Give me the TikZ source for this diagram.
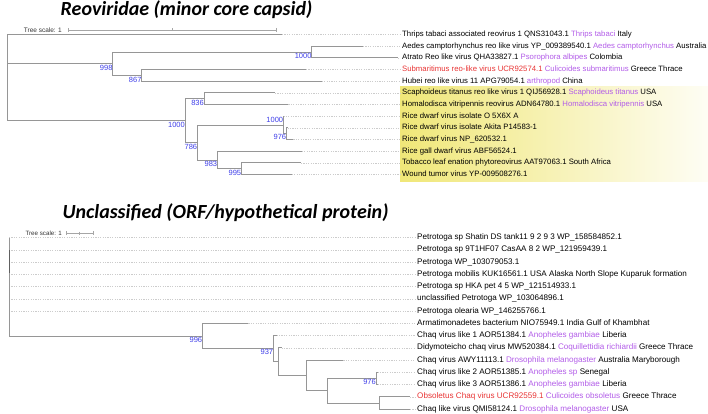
\documentclass[tikz,border=0pt]{standalone}
\usepackage{fontspec}
\setmainfont{Liberation Sans}
\newfontfamily\titlefont{Carlito}
\usetikzlibrary{arrows.meta,positioning}
\definecolor{hostpurple}{RGB}{178,92,232}
\definecolor{virusred}{RGB}{232,52,52}
\definecolor{bootblue}{RGB}{62,62,232}
\definecolor{hlyellow}{RGB}{240,231,120}
\definecolor{branchgray}{RGB}{150,150,150}
\newcommand{\host}[1]{\textcolor{hostpurple}{#1}}
\newcommand{\redvir}[1]{\textcolor{virusred}{#1}}

\begin{document}
\begin{tikzpicture}[x=1pt,y=-1pt,
    branch/.style={draw=branchgray, line width=0.7pt},
    leader/.style={draw=gray!40, line width=0.5pt, dash pattern=on 1.2pt off 1.2pt},
    leaf/.style={anchor=west, inner xsep=2pt, inner ysep=0pt, text height=5.5pt, text depth=1.5pt, font=\fontsize{7.75}{9}\selectfont},
    leafb/.style={leaf, font=\fontsize{8.1}{9.5}\selectfont},
    boot/.style={text=bootblue, inner sep=0pt, text height=5.4pt, text depth=0pt, font=\fontsize{7.5}{9}\selectfont},
    titletext/.style={anchor=base, inner sep=0pt, font=\titlefont\bfseries\itshape\fontsize{20}{23}\selectfont},
    scaletext/.style={anchor=east, inner sep=0pt, text=gray!40!black, font=\fontsize{6.5}{8}\selectfont},
    scalebar/.style={draw=gray!70, line width=0.8pt, {Bar[width=4pt]}-{Bar[width=4pt]}}]
\useasboundingbox (0,0) rectangle (708,414);

\node[titletext] (title1) at (186.5,16) {Reoviridae (minor core capsid)};
\node[titletext] (title2) at (225.5,218) {Unclassified (ORF/hypothetical protein)};

\node[scaletext] (scale1) at (62,30) {Tree scale: 1};
\coordinate (sa) at (68.3,30);
\coordinate (sb) at (276.7,30);
\draw[scalebar] (sa) -- (sb);
\draw[draw=gray!70, line width=0.6pt] (172.5,28.5) -- (172.5,31.5);
\node[scaletext, font=\fontsize{6.2}{8}\selectfont] (scale2) at (62,233) {Tree scale: 1};
\coordinate (sc) at (66,233);
\coordinate (sd) at (93.3,233);
\draw[scalebar] (sc) -- (sd);
\draw[draw=gray!70, line width=0.6pt] (79.7,231.5) -- (79.7,234.5);

\shade[left color=hlyellow, right color=hlyellow!8] (400,86.7) rectangle (708,181.5);

\coordinate (rootA) at (7,77.5);
\coordinate (nA) at (112.7,63.67);
\coordinate (nB) at (141.7,75.33);
\coordinate (nC) at (311.7,52);
\coordinate (nD) at (185,120.55);
\coordinate (nE) at (197.3,142.42);
\coordinate (nF) at (204,98.67);
\coordinate (nG) at (283.3,124.92);
\coordinate (nH) at (217.3,159.92);
\coordinate (nI) at (286.3,133.67);
\coordinate (nJ) at (241.3,168.67);

\coordinate (t1) at (282,34.5);
\coordinate (t2) at (363,46.17);
\coordinate (t3) at (398,57.84);
\coordinate (t4) at (306,69.5);
\coordinate (t5) at (321.7,81.17);
\coordinate (t6) at (275,92.84);
\coordinate (t7) at (288.3,104.5);
\coordinate (t8) at (283.3,116.17);
\coordinate (t9) at (287.5,127.84);
\coordinate (t10) at (293.3,139.5);
\coordinate (t11) at (301.7,151.17);
\coordinate (t12) at (301,162.84);
\coordinate (t13) at (291.7,174.5);

\node[leaf] (l1) at (400,34.5) {Thrips tabaci associated reovirus 1 QNS31043.1 \host{Thrips tabaci} Italy};
\node[leaf] (l2) at (400,46.17) {Aedes camptorhynchus reo like virus YP\_009389540.1 \host{Aedes camptorhynchus} Australia};
\node[leaf] (l3) at (400,57.84) {Atrato Reo like virus QHA33827.1 \host{Psorophora albipes} Colombia};
\node[leaf] (l4) at (400,69.5) {\redvir{Submaritimus reo-like virus UCR92574.1} \host{Culicoides submaritimus} Greece Thrace};
\node[leaf] (l5) at (400,81.17) {Hubei reo like virus 11 APG79054.1 \host{arthropod} China};
\node[leaf] (l6) at (400,92.84) {Scaphoideus titanus reo like virus 1 QIJ56928.1 \host{Scaphoideus titanus} USA};
\node[leaf] (l7) at (400,104.5) {Homalodisca vitripennis reovirus ADN64780.1 \host{Homalodisca vitripennis} USA};
\node[leaf] (l8) at (400,116.17) {Rice dwarf virus isolate O 5X6X A};
\node[leaf] (l9) at (400,127.84) {Rice dwarf virus isolate Akita P14583-1};
\node[leaf] (l10) at (400,139.5) {Rice dwarf virus NP\_620532.1};
\node[leaf] (l11) at (400,151.17) {Rice gall dwarf virus ABF56524.1};
\node[leaf] (l12) at (400,162.84) {Tobacco leaf enation phytoreovirus AAT97063.1 South Africa};
\node[leaf] (l13) at (400,174.5) {Wound tumor virus YP-009508276.1};

\draw[leader] (t1) -- (l1.west);
\draw[leader] (t2) -- (l2.west);
\draw[leader] (t3) -- (l3.west);
\draw[leader] (t4) -- (l4.west);
\draw[leader] (t5) -- (l5.west);
\draw[leader] (t6) -- (l6.west);
\draw[leader] (t7) -- (l7.west);
\draw[leader] (t8) -- (l8.west);
\draw[leader] (t9) -- (l9.west);
\draw[leader] (t10) -- (l10.west);
\draw[leader] (t11) -- (l11.west);
\draw[leader] (t12) -- (l12.west);
\draw[leader] (t13) -- (l13.west);

\draw[branch] (rootA) |- (t1);
\draw[branch] (rootA) |- (nA);
\draw[branch] (rootA) |- (nD);
\draw[branch] (nA) |- (nC);
\draw[branch] (nA) |- (nB);
\draw[branch] (nC) |- (t2);
\draw[branch] (nC) |- (t3);
\draw[branch] (nB) |- (t4);
\draw[branch] (nB) |- (t5);
\draw[branch] (nD) |- (nF);
\draw[branch] (nD) |- (nE);
\draw[branch] (nF) |- (t6);
\draw[branch] (nF) |- (t7);
\draw[branch] (nE) |- (nG);
\draw[branch] (nE) |- (nH);
\draw[branch] (nG) |- (t8);
\draw[branch] (nG) |- (nI);
\draw[branch] (nI) |- (t9);
\draw[branch] (nI) |- (t10);
\draw[branch] (nH) |- (t11);
\draw[branch] (nH) |- (nJ);
\draw[branch] (nJ) |- (t12);
\draw[branch] (nJ) |- (t13);

\node[boot, below left=1.2pt and 0pt of nC] (bC) {1000};
\node[boot, below left=1.2pt and 0pt of nA] (bA) {998};
\node[boot, below left=1.2pt and 0pt of nB] (bB) {867};
\node[boot, below left=1.2pt and 0pt of nF] (bF) {836};
\node[boot, below left=1.2pt and 0pt of nD] (bD) {1000};
\node[boot, above left=2.2pt and 0pt of nG] (bG) {1000};
\node[boot, below left=0.5pt and 0pt of nI] (bI) {976};
\node[boot, below left=1.2pt and 0pt of nE] (bE) {786};
\node[boot, below left=1.2pt and 0pt of nH] (bH) {983};
\node[boot, below left=1.2pt and 0pt of nJ] (bJ) {995};

\coordinate (rootB) at (9,286);
\coordinate (nK) at (202.3,335.88);
\coordinate (nL) at (273.3,348.52);
\coordinate (nM) at (278.3,361.53);
\coordinate (nN) at (306,375.31);
\coordinate (nO) at (327.7,390.63);
\coordinate (nP) at (376,378.38);
\coordinate (nQ) at (379.3,402.88);
\coordinate (sub1) at (9.3,250);
\coordinate (sub2) at (9.3,273);

\coordinate (u1) at (9,237.5);
\coordinate (u2) at (9,249.75);
\coordinate (u3) at (9,262);
\coordinate (u4) at (9,274.25);
\coordinate (u5) at (9,286.5);
\coordinate (u6) at (9,298.75);
\coordinate (u7) at (9,311);
\coordinate (u8) at (248.3,323.25);
\coordinate (u9) at (276.5,335.5);
\coordinate (u10) at (281.5,347.75);
\coordinate (u11) at (343.3,360);
\coordinate (u12) at (377.5,372.25);
\coordinate (u13) at (377.5,384.5);
\coordinate (u14) at (410,396.75);
\coordinate (u15) at (410,409);

\node[leafb] (m1) at (415,237.5) {Petrotoga sp Shatin DS tank11 9 2 9 3 WP\_158584852.1};
\node[leafb] (m2) at (415,249.75) {Petrotoga sp 9T1HF07 CasAA 8 2 WP\_121959439.1};
\node[leafb] (m3) at (415,262) {Petrotoga WP\_103079053.1};
\node[leafb] (m4) at (415,274.25) {Petrotoga mobilis KUK16561.1 USA Alaska North Slope Kuparuk formation};
\node[leafb] (m5) at (415,286.5) {Petrotoga sp HKA pet 4 5 WP\_121514933.1};
\node[leafb] (m6) at (415,298.75) {unclassified Petrotoga WP\_103064896.1};
\node[leafb] (m7) at (415,311) {Petrotoga olearia WP\_146255766.1};
\node[leafb] (m8) at (415,323.25) {Armatimonadetes bacterium NIO75949.1 India Gulf of Khambhat};
\node[leafb] (m9) at (415,335.5) {Chaq virus like 1 AOR51384.1 \host{Anopheles gambiae} Liberia};
\node[leafb] (m10) at (415,347.75) {Didymoteicho chaq virus MW520384.1 \host{Coquillettidia richiardii} Greece Thrace};
\node[leafb] (m11) at (415,360) {Chaq virus AWY11113.1 \host{Drosophila melanogaster} Australia Maryborough};
\node[leafb] (m12) at (415,372.25) {Chaq virus like 2 AOR51385.1 \host{Anopheles sp} Senegal};
\node[leafb] (m13) at (415,384.5) {Chaq virus like 3 AOR51386.1 \host{Anopheles gambiae} Liberia};
\node[leafb] (m14) at (415,396.75) {\redvir{Obsoletus Chaq virus UCR92559.1} \host{Culicoides obsoletus} Greece Thrace};
\node[leafb] (m15) at (415,409) {Chaq like virus QMI58124.1 \host{Drosophila melanogaster} USA};

\draw[leader] (u1) -- (m1.west);
\draw[leader] (u2) -- (m2.west);
\draw[leader] (u3) -- (m3.west);
\draw[leader] (u4) -- (m4.west);
\draw[leader] (u5) -- (m5.west);
\draw[leader] (u6) -- (m6.west);
\draw[leader] (u7) -- (m7.west);
\draw[leader] (u8) -- (m8.west);
\draw[leader] (u9) -- (m9.west);
\draw[leader] (u10) -- (m10.west);
\draw[leader] (u11) -- (m11.west);
\draw[leader] (u12) -- (m12.west);
\draw[leader] (u13) -- (m13.west);
\draw[leader] (u14) -- (m14.west);
\draw[leader] (u15) -- (m15.west);

\draw[branch] (rootB) |- (u1);
\draw[branch] (rootB) |- (nK);
\draw[branch, line width=1.3pt, draw=gray!75!black] (sub1) -- (sub2);
\draw[branch] (nK) |- (u8);
\draw[branch] (nK) |- (nL);
\draw[branch] (nL) |- (u9);
\draw[branch] (nL) |- (nM);
\draw[branch] (nM) |- (u10);
\draw[branch] (nM) |- (nN);
\draw[branch] (nN) |- (u11);
\draw[branch] (nN) |- (nO);
\draw[branch] (nO) |- (nP);
\draw[branch] (nO) |- (nQ);
\draw[branch] (nP) |- (u12);
\draw[branch] (nP) |- (u13);
\draw[branch] (nQ) |- (u14);
\draw[branch] (nQ) |- (u15);

\node[boot, below left=0.8pt and 0pt of nK] (bK) {996};
\node[boot, below left=0.8pt and 0pt of nL] (bL) {937};
\node[boot, below left=0.3pt and 0pt of nP] (bP) {976};
\end{tikzpicture}
\end{document}
